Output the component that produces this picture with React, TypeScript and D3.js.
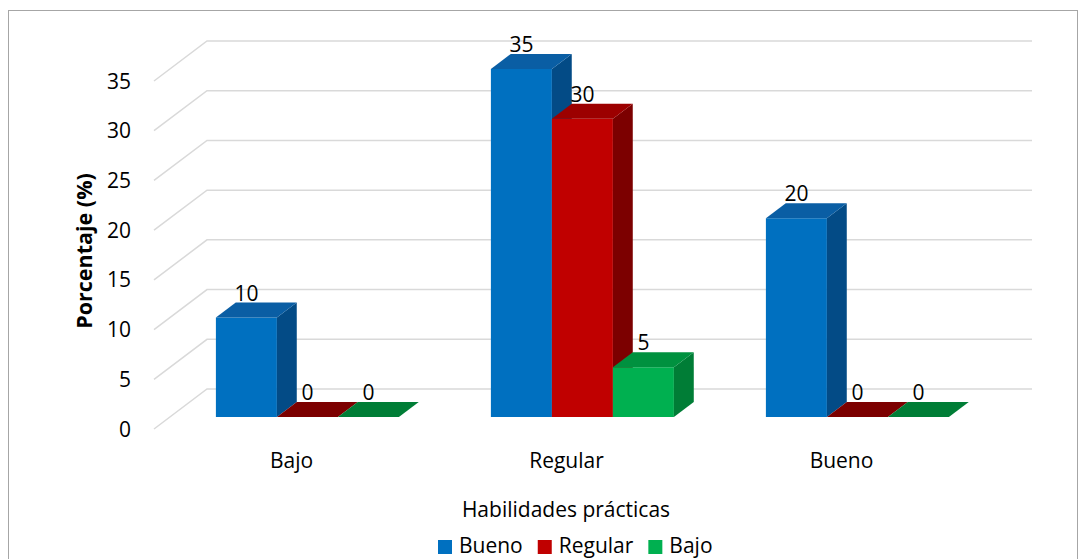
import React, { useEffect, useRef } from "react";
import * as d3 from "d3";

// Chart data
const categories = ["Bajo", "Regular", "Bueno"];
const seriesNames = ["Bueno", "Regular", "Bajo"];
const buenoValues = [10, 35, 20];
const regularValues = [0, 30, 0];
const bajoValues = [0, 5, 0];
const yTicks = [0, 5, 10, 15, 20, 25, 30, 35];
const xTitle = "Habilidades prácticas";
const yTitle = "Porcentaje (%)";

const seriesValues = [buenoValues, regularValues, bajoValues];

// Face shading for each series: front, top and right side
const palette = [
  { front: "#0070C0", top: "#0A5EA4", side: "#034B86" },
  { front: "#C00000", top: "#9C0000", side: "#7C0000" },
  { front: "#00B050", top: "#00913F", side: "#007D36" },
];

const W = 1079;
const H = 559;
const FONT = "'Open Sans', sans-serif";

export default function App() {
  const ref = useRef<SVGSVGElement | null>(null);

  useEffect(() => {
    const svg = d3.select(ref.current);
    svg.selectAll("*").remove();

    // Projection of the 3D box: depth runs up and to the right
    const DX = 53;
    const DY = 40;
    const d1 = 0.3;
    const d2 = 0.675;

    const y = d3.scaleLinear().domain([0, 35]).range([429, 81]);
    const x0 = d3.scaleBand<string>().domain(categories).range([154, 979]);
    const x1 = d3
      .scaleBand<string>()
      .domain(seriesNames)
      .range([0, x0.bandwidth()])
      .paddingInner(0)
      .paddingOuter(0.754);

    const proj = (x: number, v: number, d: number): [number, number] => [
      x + d * DX,
      y(v) - d * DY,
    ];
    const poly = (pts: [number, number][]) => pts.map((p) => p.join(",")).join(" ");

    // Outer frame
    svg
      .append("rect")
      .attr("x", 8.5)
      .attr("y", 10.5)
      .attr("width", 1069)
      .attr("height", 600)
      .attr("fill", "#fff")
      .attr("stroke", "#a6a6a6")
      .attr("stroke-width", 1);

    // Gridlines: side-wall diagonal plus back-wall horizontal
    const [x0min, x0max] = x0.range();
    const grid = svg.append("g").attr("fill", "none").attr("stroke", "#d9d9d9").attr("stroke-width", 1.5);
    yTicks.forEach((t) => {
      const a = proj(x0min, t, 0);
      const b = proj(x0min, t, 1);
      const c = proj(x0max, t, 1);
      grid.append("polyline").attr("points", poly([a, b, c]));
    });

    // Tick labels
    svg
      .append("g")
      .selectAll("text")
      .data(yTicks)
      .join("text")
      .attr("x", 131)
      .attr("y", (t) => y(t))
      .attr("dy", "0.36em")
      .attr("text-anchor", "end")
      .attr("font-family", FONT)
      .attr("font-size", 21)
      .attr("fill", "#000")
      .text((t) => String(t));

    // Bars
    const bars = svg.append("g");
    const labels = svg.append("g");
    categories.forEach((cat, i) => {
      seriesNames.forEach((s, j) => {
        const v = seriesValues[j][i];
        const xl = (x0(cat) ?? 0) + (x1(s) ?? 0);
        const xr = xl + x1.bandwidth();
        const col = palette[j];
        if (v > 0) {
          bars
            .append("polygon")
            .attr("points", poly([proj(xl, 0, d1), proj(xr, 0, d1), proj(xr, v, d1), proj(xl, v, d1)]))
            .attr("fill", col.front);
          bars
            .append("polygon")
            .attr("points", poly([proj(xr, 0, d1), proj(xr, 0, d2), proj(xr, v, d2), proj(xr, v, d1)]))
            .attr("fill", col.side);
        }
        bars
          .append("polygon")
          .attr("points", poly([proj(xl, v, d1), proj(xr, v, d1), proj(xr, v, d2), proj(xl, v, d2)]))
          .attr("fill", v > 0 ? col.top : col.side);

        const [lx] = proj((xl + xr) / 2, v, d1);
        const [, ly] = proj(xl, v, d2);
        labels
          .append("text")
          .attr("x", lx)
          .attr("y", ly - 2)
          .attr("text-anchor", "middle")
          .attr("font-family", FONT)
          .attr("font-size", 21)
          .attr("fill", "#000")
          .text(String(v));
      });
    });

    // Category labels
    svg
      .append("g")
      .selectAll("text")
      .data(categories)
      .join("text")
      .attr("x", (c) => (x0(c) ?? 0) + x0.bandwidth() / 2)
      .attr("y", 468)
      .attr("text-anchor", "middle")
      .attr("font-family", FONT)
      .attr("font-size", 21)
      .attr("fill", "#000")
      .text((c) => c);

    // Axis titles
    svg
      .append("text")
      .attr("x", 566)
      .attr("y", 517)
      .attr("text-anchor", "middle")
      .attr("font-family", FONT)
      .attr("font-size", 21)
      .attr("fill", "#000")
      .text(xTitle);

    svg
      .append("text")
      .attr("transform", "translate(92,251) rotate(-90)")
      .attr("text-anchor", "middle")
      .attr("font-family", FONT)
      .attr("font-size", 21.5)
      .attr("font-weight", "bold")
      .attr("fill", "#000")
      .text(yTitle);

    // Legend
    const legend = svg.append("g");
    let lx = 438;
    seriesNames.forEach((s, j) => {
      legend
        .append("rect")
        .attr("x", lx)
        .attr("y", 540)
        .attr("width", 14)
        .attr("height", 14)
        .attr("fill", palette[j].front);
      const t = legend
        .append("text")
        .attr("x", lx + 21)
        .attr("y", 553)
        .attr("font-family", FONT)
        .attr("font-size", 21)
        .attr("fill", "#000")
        .text(s);
      const w = (t.node() as SVGTextElement).getComputedTextLength();
      lx += 21 + w + 15;
    });
  }, []);

  return (
    <svg
      ref={ref}
      width={W}
      height={H}
      style={{ position: "absolute", left: 0, top: 0, background: "#fff" }}
    />
  );
}
